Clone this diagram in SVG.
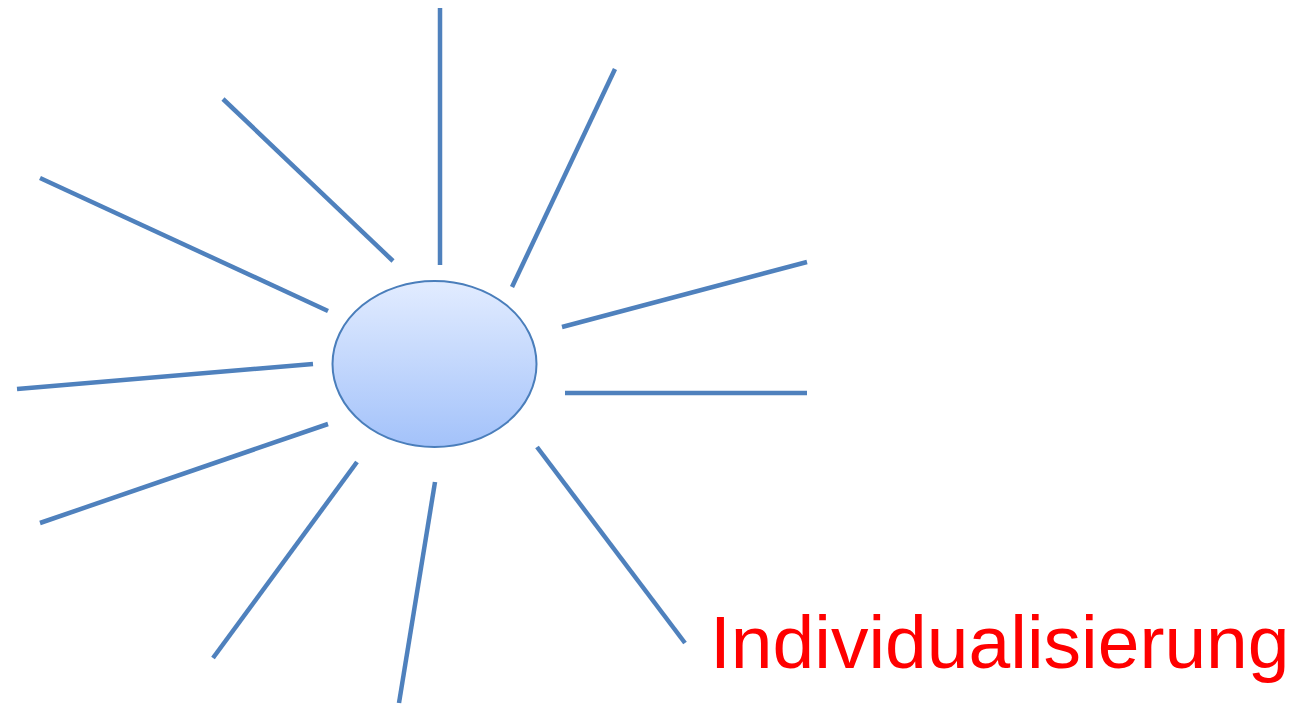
<svg xmlns="http://www.w3.org/2000/svg" width="1293" height="704" viewBox="0 0 1293 704">
<style>
.ray{stroke:#4f81bd;stroke-width:4.5;fill:none}
.lbl{font-family:"Liberation Sans",Arial,sans-serif;font-size:75px;fill:#ff0000}
</style>
<defs>
<linearGradient id="g" x1="0" y1="0" x2="0" y2="1">
<stop offset="0" stop-color="#e2ecff"/>
<stop offset="1" stop-color="#a3c2fa"/>
</linearGradient>
</defs>
<rect width="1293" height="704" fill="#ffffff"/>
<g id="connectors">
<line class="ray" x1="440" y1="8" x2="440" y2="265"/>
<line class="ray" x1="615" y1="69" x2="512" y2="287"/>
<line class="ray" x1="807" y1="262" x2="562" y2="327"/>
<line class="ray" x1="807" y1="393" x2="565" y2="393"/>
<line class="ray" x1="537" y1="447" x2="685" y2="643"/>
<line class="ray" x1="435" y1="482" x2="399" y2="703"/>
<line class="ray" x1="357" y1="462" x2="213" y2="658"/>
<line class="ray" x1="328" y1="424" x2="40" y2="523"/>
<line class="ray" x1="313" y1="364" x2="17" y2="389"/>
<line class="ray" x1="328" y1="311" x2="40" y2="178"/>
<line class="ray" x1="393" y1="261" x2="223" y2="99"/>
</g>
<g id="center">
<ellipse cx="434.5" cy="364" rx="102" ry="83" fill="url(#g)" stroke="#4a7ebb" stroke-width="2"/>
</g>
<g id="label">
<text class="lbl" x="710" y="668">Individualisierung</text>
</g>
</svg>
